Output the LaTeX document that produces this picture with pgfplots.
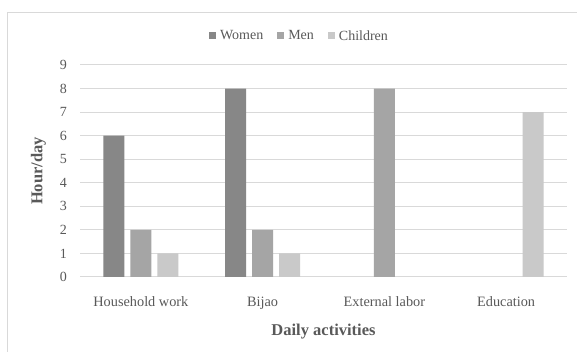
\documentclass[border=0pt]{standalone}
\usepackage{pgfplots}
\pgfplotsset{compat=1.18}
\usepackage{fontspec}
\setmainfont{Liberation Serif}
\definecolor{women}{HTML}{878787}
\definecolor{men}{HTML}{A5A5A5}
\definecolor{children}{HTML}{C9C9C9}
\definecolor{gridc}{HTML}{D9D9D9}
\definecolor{txt}{HTML}{595959}
\begin{document}
\begin{tikzpicture}
\useasboundingbox (0pt,0pt) rectangle (577pt,352pt);
\fill[white] (0pt,0pt) rectangle (577pt,352pt);
\draw[gridc, line width=1pt] (7pt,0pt) -- (7pt,339pt) -- (577pt,339pt);
\begin{axis}[
  at={(80pt,75pt)}, anchor=south west,
  scale only axis, width=487pt, height=212pt,
  ybar=6pt, bar width=21pt,
  xmin=-0.5, xmax=3.5, ymin=0, ymax=9,
  enlargelimits=false, clip=false,
  xtick={0,1,2,3},
  xticklabels={Household work, Bijao, External labor, Education},
  ytick={0,1,...,9},
  /pgf/number format/assume math mode=true,
  axis line style={draw=none},
  tick style={draw=none},
  ymajorgrids, grid style={gridc, line width=1pt},
  yticklabel style={font=\fontsize{14}{16}\selectfont, text=txt, anchor=east, inner sep=0pt, xshift=-13pt},
  xticklabel style={font=\fontsize{14.3}{16}\selectfont, text=txt, anchor=base, inner sep=0pt, yshift=-25.7pt},
  xlabel={Daily activities},
  ylabel={Hour/day},
  xlabel style={font=\fontsize{16.5}{18}\selectfont\bfseries, text=txt, at={(axis description cs:0.5,-0.2783)}, anchor=base, inner sep=0pt},
  ylabel style={font=\fontsize{16.5}{18}\selectfont\bfseries, text=txt, at={(axis description cs:-0.0852,0.5)}, anchor=center, inner sep=0pt},
  legend columns=-1,
  legend style={at={(axis description cs:0.4497,1.137)}, anchor=center, draw=none, fill=none,
    font=\fontsize{14}{16}\selectfont, text=txt,
    /tikz/every odd column/.append style={column sep=3pt},
    /tikz/every even column/.append style={column sep=13pt},
    nodes={inner sep=1pt}},
  legend image code/.code={\fill[#1, draw=none] (0pt,-3.5pt) rectangle (7pt,3.5pt);},
]
\addplot[fill=women, draw=none] coordinates {(0,6) (1,8)};
\addplot[fill=men, draw=none] coordinates {(0,2) (1,2) (2,8)};
\addplot[fill=children, draw=none] coordinates {(0,1) (1,1) (3,7)};
\legend{Women, Men, Children}
\end{axis}
\end{tikzpicture}
\end{document}
